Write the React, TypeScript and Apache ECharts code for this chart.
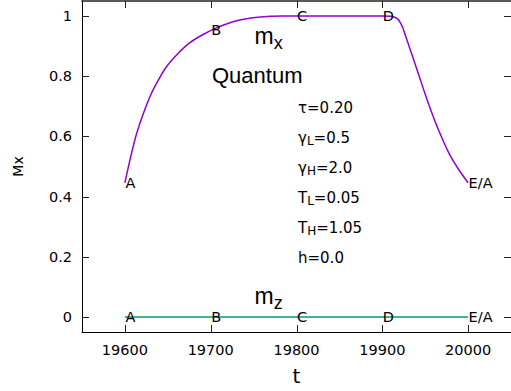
import React, { useEffect, useRef } from "react";
import * as echarts from "echarts";

// ---- data ----
const tTicks = [19600, 19700, 19800, 19900, 20000];
const yTicks = [0, 0.2, 0.4, 0.6, 0.8, 1];
const pointNames = ["A", "B", "C", "D", "E/A"];

const mxT = [
  19600, 19606, 19613, 19621, 19629, 19636, 19648, 19660, 19675, 19690, 19706,
  19715, 19725, 19740, 19755, 19770, 19785, 19800, 19850, 19900, 19910, 19917,
  19921, 19924, 19927, 19935, 19943, 19950, 19958, 19966, 19977, 19989, 20000,
];
const mxV = [
  0.446, 0.523, 0.603, 0.672, 0.731, 0.772, 0.83, 0.87, 0.91, 0.937, 0.96,
  0.97, 0.98, 0.99, 0.996, 0.999, 1.0, 1.0, 1.0, 1.0, 0.999, 0.992,
  0.978, 0.96, 0.935, 0.868, 0.8, 0.74, 0.676, 0.618, 0.548, 0.49, 0.446,
];
const mzT = [19600, 19800, 20000];
const mzV = [0, 0, 0];

const mxPointV = [0.446, 0.955, 1.0, 1.0, 0.446];
const mzPointV = [0, 0, 0, 0, 0];

const paramLines = [
  { sym: "τ", sub: "", val: "=0.20" },
  { sym: "γ", sub: "L", val: "=0.5" },
  { sym: "γ", sub: "H", val: "=2.0" },
  { sym: "T", sub: "L", val: "=0.05" },
  { sym: "T", sub: "H", val: "=1.05" },
  { sym: "h", sub: "", val: "=0.0" },
];

const X_MIN = 19550;
const X_MAX = 20050;
const Y_MIN = -0.05;
const Y_MAX = 1.05;

const DV = "DejaVu Sans";
const LS = "Liberation Sans";
const TICK_LEN = 7;

export default function App() {
  const ref = useRef<HTMLDivElement>(null);
  useEffect(() => {
    if (!ref.current) return;
    const chart = echarts.init(ref.current, undefined, { renderer: "svg" });

    const axisLabelStyle = { fontFamily: DV, fontSize: 14.5, color: "#000" };

    const paramGraphics = paramLines.map((p, i) => ({
      type: "text",
      x: 298,
      y: 107.5 + i * 30,
      style: {
        text:
          `{b|${p.sym}}` + (p.sub ? `{s|${p.sub}}` : "") + `{b|${p.val}}`,
        verticalAlign: "middle",
        align: "left",
        rich: {
          b: { fontFamily: DV, fontSize: 15, lineHeight: 18, fill: "#000" },
          s: {
            fontFamily: DV,
            fontSize: 12,
            lineHeight: 12,
            verticalAlign: "bottom",
            fill: "#000",
          },
        },
      },
    }));

    const mLabel = (sub: string, y: number) => ({
      type: "text",
      x: 254.5,
      y,
      style: {
        text: `{b|m}{s|${sub}}`,
        verticalAlign: "middle",
        align: "left",
        rich: {
          b: { fontFamily: LS, fontSize: 23, lineHeight: 32, fill: "#000" },
          s: {
            fontFamily: LS,
            fontSize: 18,
            lineHeight: 18,
            verticalAlign: "bottom",
            fill: "#000",
          },
        },
      },
    });

    const labelSeries = (vals: number[]) => ({
      type: "scatter",
      symbol: "circle",
      symbolSize: 1,
      itemStyle: { color: "rgba(255,255,255,0)" },
      silent: true,
      data: tTicks.map((t, i) => ({ name: pointNames[i], value: [t, vals[i]] })),
      label: {
        show: true,
        position: "right",
        distance: 0,
        formatter: (p: any) => p.name,
        fontFamily: DV,
        fontSize: 14.5,
        color: "#000",
        opacity: 1,
      },
      z: 5,
    });

    const tickStyle = { stroke: "#222", lineWidth: 1 };

    const xTickSeries = {
      type: "custom",
      silent: true,
      clip: false,
      data: tTicks.map((t) => [t, 0]),
      renderItem: (_p: any, api: any) => {
        const t = api.value(0);
        const b = api.coord([t, Y_MIN]);
        const tp = api.coord([t, Y_MAX]);
        const x = Math.round(b[0]) + 0.5;
        return {
          type: "group",
          children: [
            { type: "line", shape: { x1: x, y1: b[1], x2: x, y2: b[1] - TICK_LEN }, style: tickStyle },
            { type: "line", shape: { x1: x, y1: tp[1], x2: x, y2: tp[1] + TICK_LEN }, style: tickStyle },
          ],
        };
      },
      z: 4,
    };

    const yTickSeries = {
      type: "custom",
      silent: true,
      clip: false,
      data: yTicks.map((v) => [X_MIN, v]),
      renderItem: (_p: any, api: any) => {
        const v = api.value(1);
        const l = api.coord([X_MIN, v]);
        const r = api.coord([X_MAX, v]);
        const y = Math.round(l[1]) + 0.5;
        return {
          type: "group",
          children: [
            { type: "line", shape: { x1: l[0], y1: y, x2: l[0] + TICK_LEN, y2: y }, style: tickStyle },
            { type: "line", shape: { x1: r[0], y1: y, x2: r[0] - TICK_LEN, y2: y }, style: tickStyle },
          ],
        };
      },
      z: 4,
    };

    chart.setOption({
      animation: false,
      backgroundColor: "#fff",
      grid: { left: 82, top: 1, width: 434, height: 332, containLabel: false },
      xAxis: [
        {
          type: "value",
          min: X_MIN,
          max: X_MAX,
          splitNumber: 5,
          position: "bottom",
          name: "t",
          nameLocation: "middle",
          nameGap: 34,
          nameTextStyle: { fontFamily: DV, fontSize: 20, color: "#000" },
          axisLine: { show: true, onZero: false, lineStyle: { color: "#000", width: 1 } },
          axisTick: { show: false },
          axisLabel: {
            ...axisLabelStyle,
            margin: 10,
            showMinLabel: false,
            showMaxLabel: false,
            formatter: (v: number) => String(v),
          },
          splitLine: { show: false },
        },
        {
          type: "value",
          min: X_MIN,
          max: X_MAX,
          position: "top",
          axisLine: { show: true, onZero: false, lineStyle: { color: "#222", width: 1.5 } },
          axisTick: { show: false },
          axisLabel: { show: false },
          splitLine: { show: false },
        },
      ],
      yAxis: [
        {
          type: "value",
          min: Y_MIN,
          max: Y_MAX,
          splitNumber: 5,
          position: "left",
          name: "Mx",
          nameLocation: "middle",
          nameRotate: 90,
          nameGap: 57,
          nameTextStyle: { fontFamily: DV, fontSize: 14, color: "#000" },
          axisLine: { show: true, onZero: false, lineStyle: { color: "#000", width: 1 } },
          axisTick: { show: false },
          axisLabel: {
            ...axisLabelStyle,
            margin: 10,
            showMinLabel: false,
            showMaxLabel: false,
          },
          splitLine: { show: false },
        },
        {
          type: "value",
          min: Y_MIN,
          max: Y_MAX,
          position: "right",
          axisLine: { show: true, onZero: false, lineStyle: { color: "#000", width: 1 } },
          axisTick: { show: false },
          axisLabel: { show: false },
          splitLine: { show: false },
        },
      ],
      series: [
        {
          type: "line",
          name: "mx",
          data: mxT.map((t, i) => [t, mxV[i]]),
          showSymbol: false,
          smooth: 0.3,
          lineStyle: { color: "#9400d3", width: 1.5 },
          itemStyle: { color: "#9400d3" },
          z: 3,
        },
        {
          type: "line",
          name: "mz",
          data: mzT.map((t, i) => [t, mzV[i]]),
          showSymbol: false,
          lineStyle: { color: "#009e73", width: 1.5 },
          itemStyle: { color: "#009e73" },
          z: 3,
        },
        labelSeries(mxPointV),
        labelSeries(mzPointV),
        xTickSeries,
        yTickSeries,
      ],
      graphic: [
        mLabel("x", 35.5),
        {
          type: "text",
          x: 212,
          y: 75,
          style: {
            text: "Quantum",
            fontFamily: LS,
            fontSize: 22,
            fill: "#000",
            align: "left",
            verticalAlign: "middle",
          },
        },
        ...paramGraphics,
        mLabel("z", 295.5),
      ],
    });

    return () => chart.dispose();
  }, []);

  return (
    <div
      ref={ref}
      style={{ position: "fixed", left: 0, top: 0, width: 511, height: 391 }}
    />
  );
}
